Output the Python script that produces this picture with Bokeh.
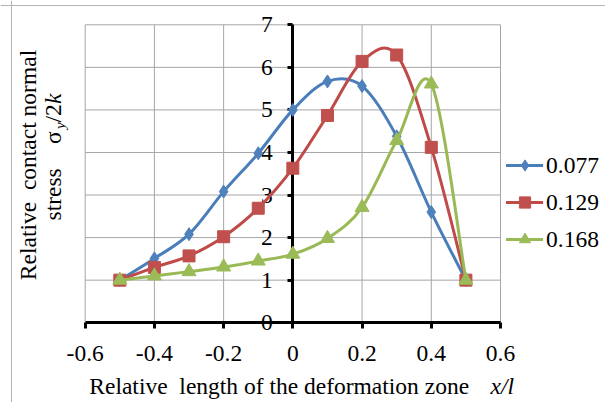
import math
from bokeh.plotting import figure
from bokeh.models import (Range1d, LinearAxis, FixedTicker, Label, Legend,
                          LegendItem, ColumnDataSource, Span)
from bokeh.core.properties import value
from bokeh.embed import file_html
from bokeh.resources import INLINE

# ---- data ----
x_pos = [-0.5, -0.4, -0.3, -0.2, -0.1, 0.0, 0.1, 0.2, 0.3, 0.4, 0.5]
series_names = ["0.077", "0.129", "0.168"]
s_077 = [1.0, 1.51, 2.08, 3.08, 3.98, 5.0, 5.67, 5.56, 4.38, 2.60, 1.0]
s_129 = [1.0, 1.30, 1.57, 2.02, 2.69, 3.63, 4.87, 6.14, 6.29, 4.12, 1.0]
s_168 = [1.0, 1.10, 1.20, 1.31, 1.45, 1.61, 1.98, 2.71, 4.28, 5.61, 1.0]
x_ticks = [-0.6, -0.4, -0.2, 0, 0.2, 0.4, 0.6]
x_tick_labels = ["-0.6", "-0.4", "-0.2", "0", "0.2", "0.4", "0.6"]
y_ticks = [0, 1, 2, 3, 4, 5, 6, 7]
y_tick_labels = ["0", "1", "2", "3", "4", "5", "6", "7"]
X_MIN, X_MAX, Y_MIN, Y_MAX = -0.6, 0.6, 0, 7

# ---- layout (pixels of the 605x402 canvas) ----
W, H = 605, 402
PX_L, PX_R, PX_T, PX_B = 84.7, 500.0, 24.3, 322.2
SX = (PX_R - PX_L) / (X_MAX - X_MIN)
SY = (PX_B - PX_T) / (Y_MAX - Y_MIN)
x_start = X_MIN - PX_L / SX
x_end = X_MAX + (W - PX_R) / SX
y_start = Y_MIN - (H - PX_B) / SY
y_end = Y_MAX + PX_T / SY


def px2x(px):
    return x_start + px / SX


def px2y(py):
    return y_end - py / SY


FONT = "Liberation Serif"
FS = "23.5px"
line_colors = ["#4A7EBB", "#BE4B48", "#98B954"]
marker_colors = ["#4F81BD", "#C0504D", "#9BBB59"]
markers = ["diamond", "square", "triangle"]
marker_sizes = [13, 12, 14]
GRID = "#a6a6a6"
NB = "\u00a0"


def smooth_segments(xs, ys, f=1.0 / 6.0):
    """Excel-like smoothed line: Catmull-Rom control points for cubic Beziers."""
    n = len(xs)
    d = dict(x0=[], y0=[], x1=[], y1=[], cx0=[], cy0=[], cx1=[], cy1=[])
    for i in range(n - 1):
        a = i - 1 if i > 0 else i
        b = i + 2 if i + 2 < n else i + 1
        d["x0"].append(xs[i]); d["y0"].append(ys[i])
        d["x1"].append(xs[i + 1]); d["y1"].append(ys[i + 1])
        d["cx0"].append(xs[i] + (xs[i + 1] - xs[a]) * f)
        d["cy0"].append(ys[i] + (ys[i + 1] - ys[a]) * f)
        d["cx1"].append(xs[i + 1] - (xs[b] - xs[i]) * f)
        d["cy1"].append(ys[i + 1] - (ys[b] - ys[i]) * f)
    return d


p = figure(width=W, height=H, x_range=Range1d(x_start, x_end),
           y_range=Range1d(y_start, y_end), output_backend="svg",
           toolbar_location=None, x_axis_location=None, y_axis_location=None,
           min_border=0)
p.outline_line_color = None
p.grid.visible = False
p.background_fill_color = "white"
p.border_fill_color = "white"

# outer chart-area border (top and left edges)
p.add_layout(Span(location=px2y(5), dimension="width", line_color="#b4b4b4", line_width=1))
p.add_layout(Span(location=px2x(11), dimension="height", line_color="#b4b4b4", line_width=1))

# gridlines of the plot area
vx = [t for t in x_ticks if t != 0]
p.segment(x0=vx, x1=vx, y0=[Y_MIN] * len(vx), y1=[Y_MAX] * len(vx),
          line_color=GRID, line_width=1, level="image")
hy = [t for t in y_ticks if t != 0]
p.segment(x0=[X_MIN] * len(hy), x1=[X_MAX] * len(hy), y0=hy, y1=hy,
          line_color=GRID, line_width=1, level="image")

# x axis along y = 0
xa = LinearAxis(fixed_location=0, bounds=(X_MIN, X_MAX), ticker=FixedTicker(ticks=x_ticks))
xa.major_label_overrides = {t: s for t, s in zip(x_ticks, x_tick_labels)}
xa.axis_line_color = "black"
xa.axis_line_width = 3
xa.major_tick_line_color = "black"
xa.major_tick_line_width = 3
xa.major_tick_out = 6
xa.major_tick_in = 0
xa.minor_tick_line_color = None
xa.major_label_standoff = 17
xa.major_label_text_font = FONT
xa.major_label_text_font_size = FS
xa.major_label_text_color = "black"
p.add_layout(xa, "below")

# y axis crossing at x = 0 (its tick labels are drawn as text next to it)
ya = LinearAxis(fixed_location=0, bounds=(Y_MIN, Y_MAX), ticker=FixedTicker(ticks=y_ticks))
ya.axis_line_color = "black"
ya.axis_line_width = 3
ya.major_tick_line_color = "black"
ya.major_tick_line_width = 3
ya.major_tick_out = 5
ya.major_tick_in = 0
ya.minor_tick_line_color = None
ya.major_label_text_color = None
ya.level = "underlay"
p.add_layout(ya, "left")

p.text(x=[0] * len(y_ticks), y=y_ticks, text=y_tick_labels, x_offset=-20,
       text_align="right", text_baseline="middle", text_font=value(FONT),
       text_font_size=value(FS), text_color="black", level="underlay")

# series
items = []
for name, ys, lc, mc, mk, ms in zip(series_names, [s_077, s_129, s_168], line_colors,
                                    marker_colors, markers, marker_sizes):
    src = ColumnDataSource(smooth_segments(x_pos, ys))
    r_line = p.bezier(x0="x0", y0="y0", x1="x1", y1="y1", cx0="cx0", cy0="cy0",
                      cx1="cx1", cy1="cy1", source=src, line_color=lc, line_width=3,
                      line_cap="round")
    r_mk = p.scatter(x_pos, ys, marker=mk, size=ms, fill_color=mc, line_color=mc,
                     line_width=1)
    items.append(LegendItem(label=name, renderers=[r_line, r_mk]))

legend = Legend(items=items, location=(506, 148.7), orientation="vertical",
                padding=0, margin=0, spacing=9, glyph_width=37, glyph_height=28,
                label_height=28, label_standoff=3, label_text_font=FONT,
                label_text_font_size=FS, label_text_color="black",
                background_fill_alpha=0, border_line_color=None)
p.add_layout(legend)


def lab(text, px, py, angle=0.0, align="left", style="normal", size=FS):
    p.add_layout(Label(x=px2x(px), y=px2y(py), text=text, angle=angle, text_font=FONT,
                       text_font_size=size, text_font_style=style, text_align=align,
                       text_baseline="middle", text_color="black"))


# x-axis title (positions are the vertical middles of the text lines)
lab("Relative " + NB + "length of the deformation zone", 88.8, 385.5)
lab("x/l", 490, 385.5, style="italic")

# y-axis title (rotated, two lines)
R = math.pi / 2
lab("Relative " + NB + "contact normal", 27, 164.5, angle=R, align="center")
lab("stress", 52, 220, angle=R)
lab("\u03c3", 52, 143.5, angle=R)
lab("y", 59, 128.5, angle=R, style="italic", size="15px")
lab("/2", 52, 122, angle=R)
lab("k", 52, 103.5, angle=R, style="italic")

open("out.html", "w").write(file_html(p, INLINE))
